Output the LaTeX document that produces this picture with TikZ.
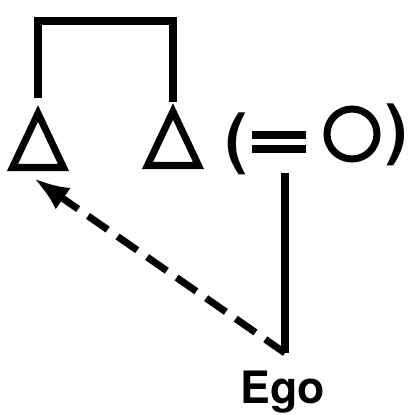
\documentclass[tikz,border=0pt]{standalone}
\usepackage{fontspec}
\setsansfont{TeX Gyre Heros}
\usetikzlibrary{arrows.meta,positioning,shapes.geometric,calc}

\begin{document}
\begin{tikzpicture}[
  male/.style={isosceles triangle, isosceles triangle stretches, shape border rotate=90, draw, line width=2pt, inner sep=0pt, minimum width=0.51cm, minimum height=0.54cm, anchor=lower side},
  female/.style={circle, draw, line width=2pt, inner sep=0pt, minimum size=0.5cm},
  paren/.style={font=\sffamily\bfseries\fontsize{19}{20}\selectfont, inner sep=0pt},
  kin/.style={line width=2.2pt},
  link/.style={-{Latex[length=0.36cm,width=0.26cm]}, line width=2pt, dash pattern=on 0.24cm off 0.12cm},
  lbl/.style={font=\sffamily\bfseries\fontsize{12.7}{14}\selectfont, inner sep=0pt}
]
  \useasboundingbox (0,0) rectangle (4.08,-4.15);

  % --- 1. SIBLINGS (Top) ---
  \node[male] (lbro) at (0.38,-1.71) {};
  \node[male] (rbro) at (1.73,-1.69) {};
  \draw[kin] ([yshift=0.06cm]lbro.apex) -- ++(0,0.77) -| ([yshift=0.0cm]rbro.apex);

  % --- 2. MARRIAGE (= O) ---
  \node[paren] (lpar) at (2.37,-1.44) {(};
  \coordinate (wed) at (2.79,-1.42);
  \draw[kin] ($(wed)+(-0.27,0.07)$) -- ++(0.54,0);
  \draw[kin] ($(wed)+(-0.27,-0.07)$) -- ++(0.54,0);
  \node[female] (wife) at (3.52,-1.34) {};
  \node[paren] (rpar) at (3.97,-1.35) {)};

  % --- 3. EGO (Bottom) ---
  \node[lbl, anchor=north] (ego) at (2.83,-3.70) {Ego};
  \coordinate (egotop) at ([xshift=0.02cm,yshift=0.17cm]ego.north);

  % descent line and link back to the brother
  \draw[kin] (egotop) -- ++(0,1.8);
  \draw[link] (egotop) -- ([shift={(-0.045,-0.07)}]lbro.lower side);

\end{tikzpicture}
\end{document}
